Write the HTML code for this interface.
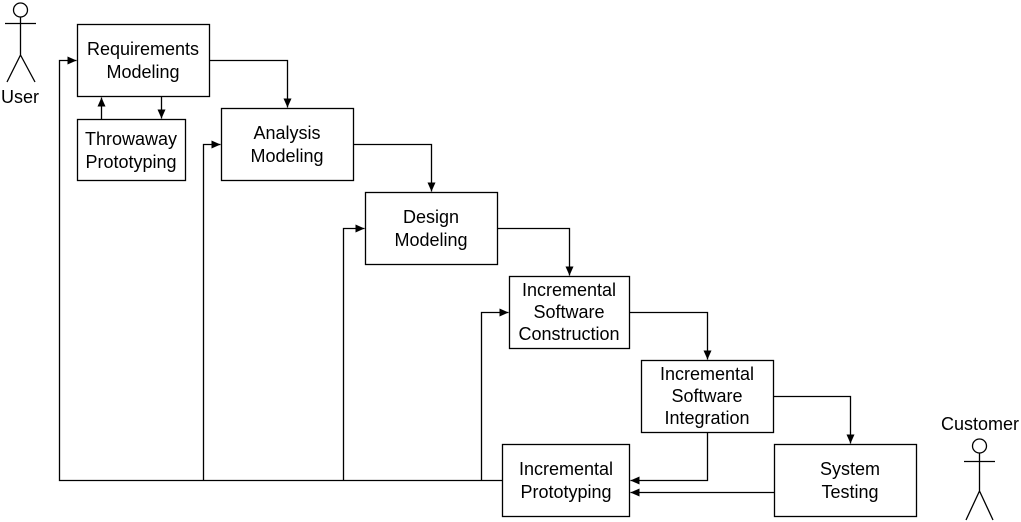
<!DOCTYPE html>
<html><head><style>body{margin:0;background:#fff}svg{display:block}text{font-family:"Liberation Sans",sans-serif;font-size:18px;fill:#000;text-anchor:middle}</style></head><body>
<svg width="1021" height="522" viewBox="0 0 1021 522">
<defs><marker id="a" markerWidth="10" markerHeight="10" refX="9" refY="5" orient="auto" markerUnits="userSpaceOnUse"><path d="M0,1 L9,5 L0,9Z" fill="#000"/></marker></defs>
<g fill="#fff" stroke="#000" stroke-width="1.3">
<rect x="77.5" y="24.5" width="132" height="72"/>
<rect x="77.5" y="119.5" width="108" height="61"/>
<rect x="221.5" y="108.5" width="132" height="72"/>
<rect x="365.5" y="192.5" width="132" height="72"/>
<rect x="509.5" y="276.5" width="120" height="72"/>
<rect x="641.5" y="360.5" width="132" height="72"/>
<rect x="502.5" y="444.5" width="127" height="72"/>
<rect x="774.5" y="444.5" width="142" height="72"/>
</g>
<g fill="none" stroke="#000" stroke-width="1.3">
<path d="M209.5,60.5H287.5V107.5" marker-end="url(#a)"/>
<path d="M353.5,144.5H431.5V191.5" marker-end="url(#a)"/>
<path d="M497.5,228.5H569.5V275.5" marker-end="url(#a)"/>
<path d="M629.5,312.5H707.5V359.5" marker-end="url(#a)"/>
<path d="M773.5,396.5H850.5V443.5" marker-end="url(#a)"/>
<path d="M707.5,432.5V480.5H630.5" marker-end="url(#a)"/>
<path d="M774.5,492.5H630.5" marker-end="url(#a)"/>
<path d="M101.5,119.5V97.5" marker-end="url(#a)"/>
<path d="M161.5,96.5V118.5" marker-end="url(#a)"/>
<path d="M502.5,480.5H59.5V60.5H76.5" marker-end="url(#a)"/>
<path d="M203.5,480.5V144.5H220.5" marker-end="url(#a)"/>
<path d="M343.5,480.5V228.5H364.5" marker-end="url(#a)"/>
<path d="M481.5,480.5V312.5H508.5" marker-end="url(#a)"/>
<circle cx="20.5" cy="10" r="7"/><path d="M5,23.5H36M20.5,17V55M20.5,55L7,82M20.5,55L35,82"/>
<circle cx="979.5" cy="446" r="7"/><path d="M964,461.5H995M979.5,453V491M979.5,491L966,520M979.5,491L993,520"/>
</g>
<text x="20" y="103">User</text>
<text x="980" y="430">Customer</text>
<text x="143" y="55">Requirements</text><text x="143" y="78">Modeling</text>
<text x="131" y="145">Throwaway</text><text x="131" y="168">Prototyping</text>
<text x="287" y="139">Analysis</text><text x="287" y="162">Modeling</text>
<text x="431" y="223">Design</text><text x="431" y="246">Modeling</text>
<text x="569" y="296">Incremental</text><text x="569" y="318">Software</text><text x="569" y="340">Construction</text>
<text x="707" y="380">Incremental</text><text x="707" y="402">Software</text><text x="707" y="424">Integration</text>
<text x="566" y="475">Incremental</text><text x="566" y="498">Prototyping</text>
<text x="850" y="475">System</text><text x="850" y="498">Testing</text>
</svg></body></html>
